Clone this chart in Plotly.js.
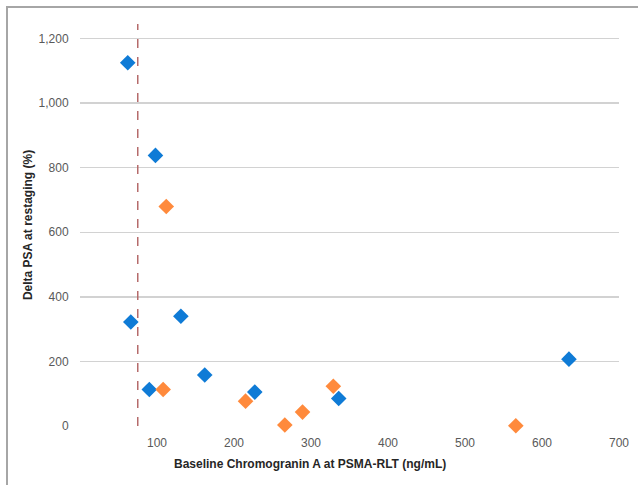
<!DOCTYPE html>
<html>
<head>
<meta charset="utf-8">
<script src="https://cdn.plot.ly/plotly-3.0.1.min.js"></script>
<style>
  html, body { margin: 0; padding: 0; background: #fff; }
  #wrap { position: relative; width: 638px; height: 485px; }
  #chart { position: absolute; left: 0; top: 0; width: 638px; height: 485px; }
  #frame { position: absolute; left: 6px; top: 6px; width: 640px; height: 490px;
           border-left: 2px solid #a6a6a6; border-top: 2px solid #a6a6a6; pointer-events: none; }
</style>
</head>
<body>
<div id="wrap"><div id="chart"></div><div id="frame"></div></div>
<script>
// Blue series
const blueX = [62, 98, 66, 131, 90, 162, 227, 336, 635];
const blueY = [1125, 838, 322, 340, 113, 158, 105, 85, 207];
// Orange series
const orangeX = [112, 108, 215, 266, 289, 329, 566];
const orangeY = [680, 113, 77, 3, 43, 123, 1];
// Cut-off line
const cutoffX = 75;
const yTicks = [0, 200, 400, 600, 800, 1000, 1200];
const yTickText = ["0", "200", "400", "600", "800", "1,000", "1,200"];
const xTicks = [100, 200, 300, 400, 500, 600, 700];

const traces = [
  { x: blueX, y: blueY, type: 'scatter', mode: 'markers', name: 'blue',
    marker: { symbol: 'diamond', size: 12, color: '#0f7bd6' }, cliponaxis: false },
  { x: orangeX, y: orangeY, type: 'scatter', mode: 'markers', name: 'orange',
    marker: { symbol: 'diamond', size: 12, color: '#ff8a3c' }, cliponaxis: false }
];

const layout = {
  width: 638, height: 485,
  margin: { l: 80, r: 19, t: 24, b: 59 },
  paper_bgcolor: '#ffffff', plot_bgcolor: '#ffffff',
  showlegend: false,
  font: { family: 'Liberation Sans, Arial, sans-serif', size: 12, color: '#595959' },
  xaxis: {
    range: [0, 700], tickvals: xTicks, showgrid: false, zeroline: false,
    showline: false, ticks: 'outside', ticklen: 6, tickcolor: 'rgba(0,0,0,0)',
    tickfont: { size: 12, color: '#595959' }
  },
  yaxis: {
    range: [0, 1245], tickvals: yTicks, ticktext: yTickText,
    showgrid: true, gridcolor: '#d2d2d2', gridwidth: 1.5, zeroline: false,
    showline: false, ticks: 'outside', ticklen: 8, tickcolor: 'rgba(0,0,0,0)',
    tickfont: { size: 12, color: '#595959' },
    title: { text: 'Delta PSA at restaging (%)', standoff: 3,
             font: { size: 12, color: '#262626', family: 'Liberation Sans, Arial, sans-serif', weight: 'bold' } }
  },
  shapes: [
    { type: 'line', xref: 'x', yref: 'y', x0: cutoffX, x1: cutoffX, y0: 0, y1: 1245,
      line: { color: '#b56b6b', width: 1.5, dash: 'dash' } }
  ],
  annotations: [
    { text: '<b>Baseline Chromogranin A at PSMA-RLT (ng/mL)</b>', xref: 'paper', yref: 'paper',
      x: 0.427, y: -0.095, xanchor: 'center', yanchor: 'middle', showarrow: false,
      font: { size: 12, color: '#262626' } }
  ]
};

Plotly.newPlot('chart', traces, layout, { displayModeBar: false, staticPlot: true });
</script>
</body>
</html>
